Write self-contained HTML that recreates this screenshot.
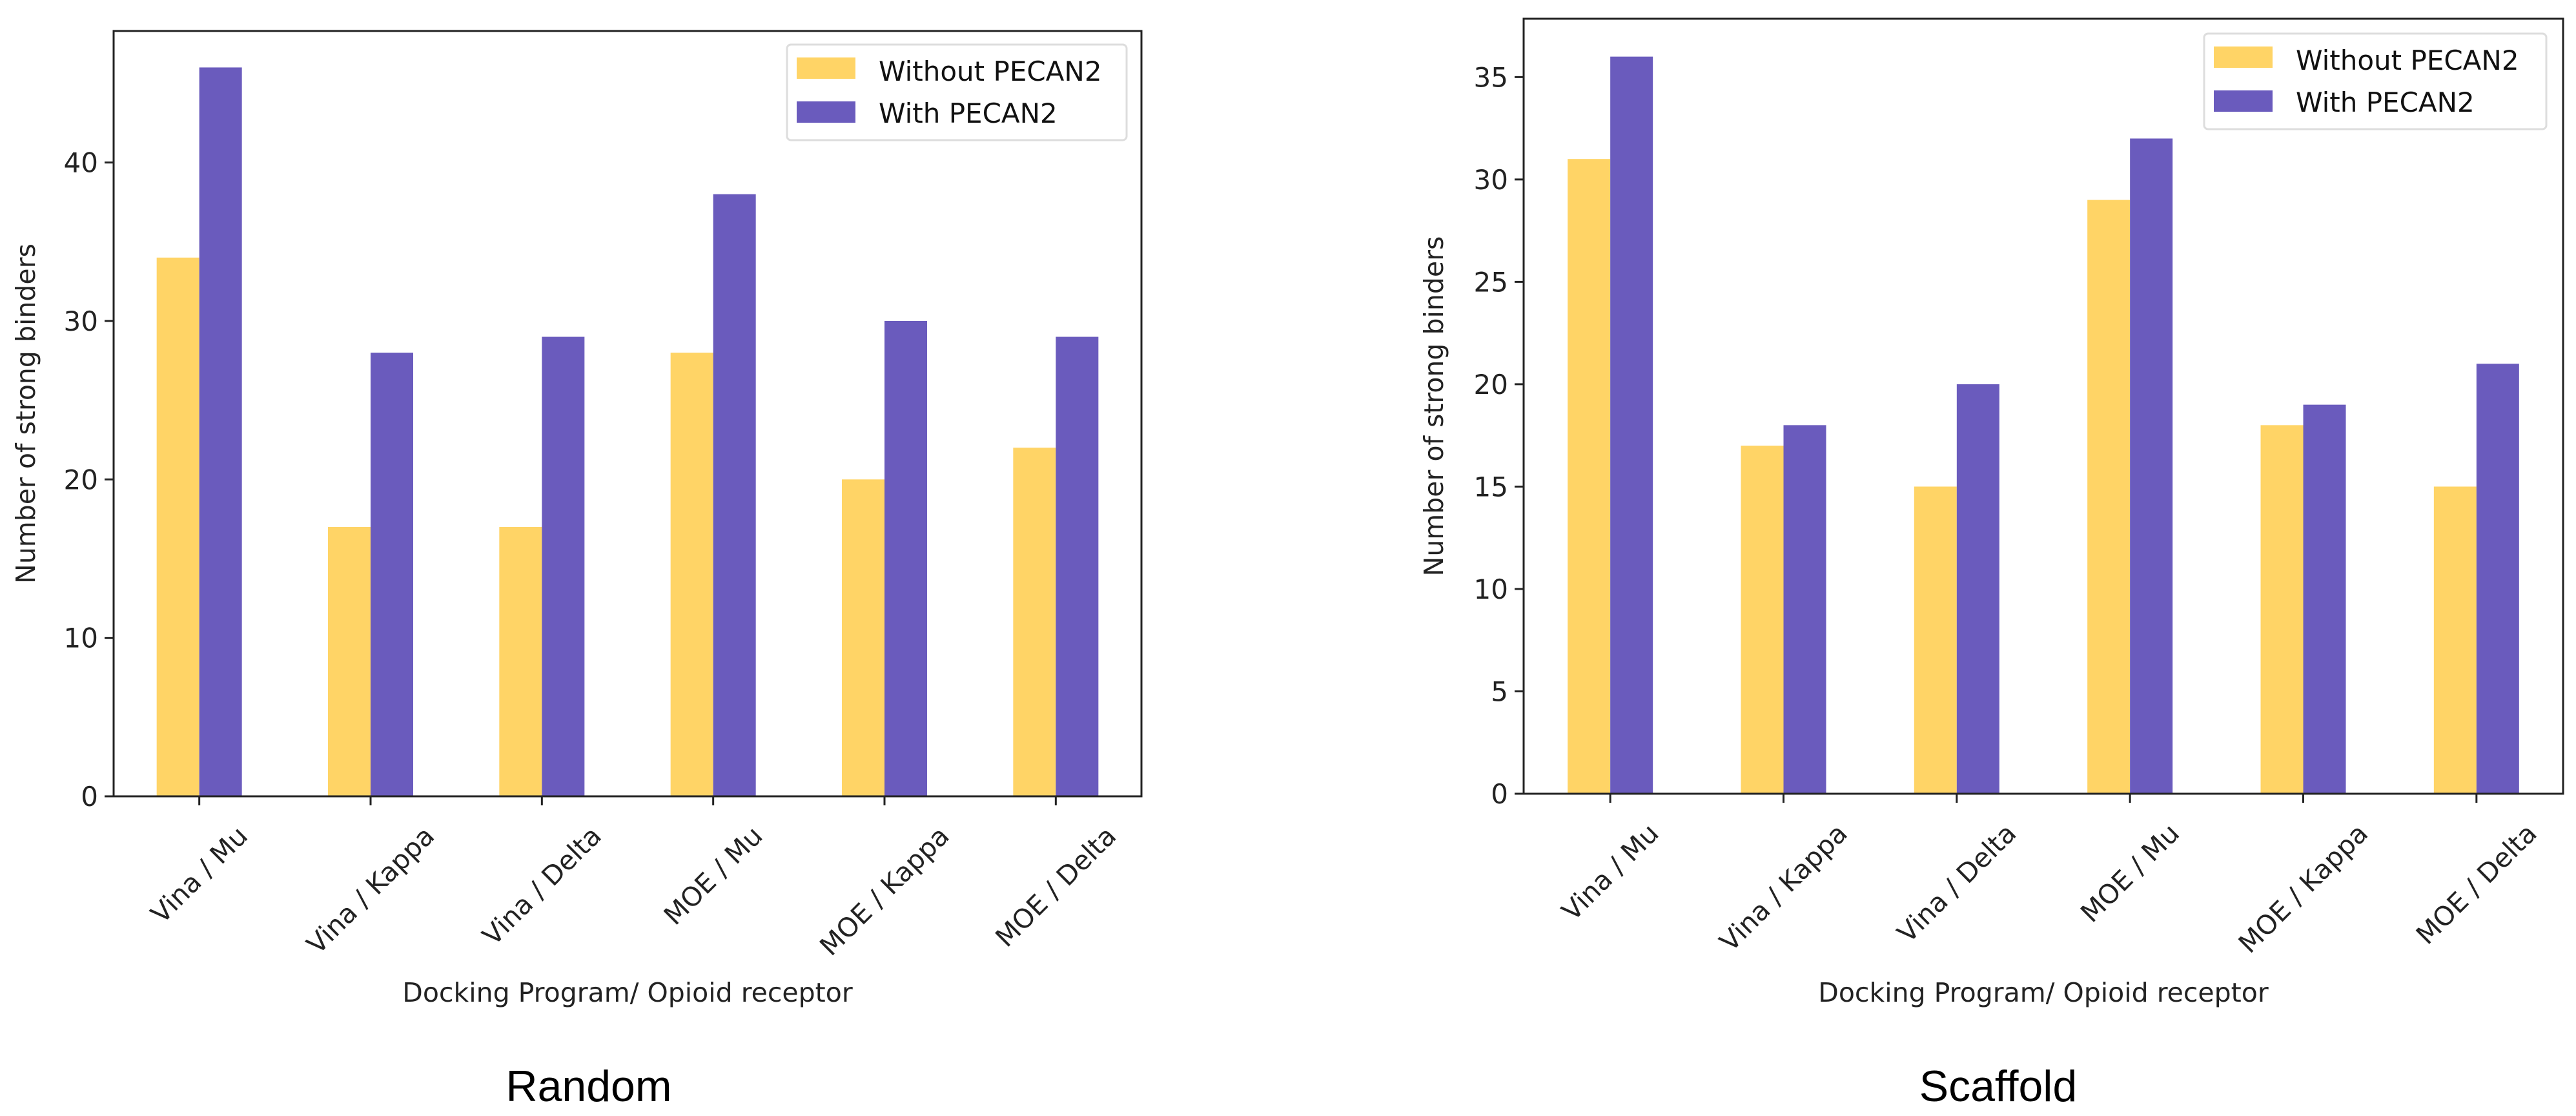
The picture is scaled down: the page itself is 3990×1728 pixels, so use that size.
<!DOCTYPE html>
<html><head><meta charset="utf-8"><style>
html,body{margin:0;padding:0;background:#fff;}
svg{display:block;font-family:"DejaVu Sans","Liberation Sans",sans-serif;}
</style></head><body>
<svg id="root" width="3990" height="1728" viewBox="0 0 3990 1728"></svg>
<script>
const categories = ["Vina / Mu","Vina / Kappa","Vina / Delta","MOE / Mu","MOE / Kappa","MOE / Delta"];
const randomWithout = [34,17,17,28,20,22];
const randomWith = [46,28,29,38,30,29];
const scaffoldWithout = [31,17,15,29,18,15];
const scaffoldWith = [36,18,20,32,19,21];
const randomTicks = [0,10,20,30,40];
const scaffoldTicks = [0,5,10,15,20,25,30,35];
const seriesNames = ["Without PECAN2","With PECAN2"];

const NS="http://www.w3.org/2000/svg";
const root=document.getElementById('root');
const C1="#FFD466", C2="#6A5BBD";
function mk(tag,attrs,parent){const e=document.createElementNS(NS,tag);for(const k in attrs)e.setAttribute(k,attrs[k]);(parent||root).appendChild(e);return e;}

function chart(cfg){
  const g=mk('g',{});
  
  
  const {L,R,T,B,ymax}=cfg;
  const y=v=>B-(v/ymax)*(B-T);
  const step=(R-L)/categories.length;
  const x=i=>L+step*(i+0.5);
  const bw=66;
  cfg.a.forEach((v,i)=>{
    const r=mk('rect',{x:x(i)-bw,y:y(v),width:bw,height:B-y(v),fill:C1},g);
    
    
  });
  cfg.b.forEach((v,i)=>{
    const r=mk('rect',{x:x(i),y:y(v),width:bw,height:B-y(v),fill:C2},g);
    
    
  });
  const frame=mk('rect',{x:L,y:T,width:R-L,height:B-T,fill:'none',stroke:'#222','stroke-width':3},g);
  
  
  cfg.ticks.forEach(t=>{
    mk('line',{x1:L-14,x2:L,y1:y(t),y2:y(t),stroke:'#222','stroke-width':3},g);
    const tx=mk('text',{x:L-24,y:y(t)+15,'text-anchor':'end','font-size':42,fill:'#222'},g);
    tx.textContent=t;
    
    
  });
  categories.forEach((c,i)=>{
    mk('line',{x1:x(i),x2:x(i),y1:B,y2:B+14,stroke:'#222','stroke-width':3},g);
    const tx=mk('text',{x:0,y:0,'text-anchor':'middle','dominant-baseline':'central','font-size':41,fill:'#222'},g);
    tx.textContent=c;
    
    
    const w=tx.getComputedTextLength();
    const h=34;
    const cy=B+42+(w+h)/(2*Math.SQRT2);
    tx.setAttribute('transform','translate('+x(i)+','+cy+') rotate(-45)');
  });
  const yt=mk('text',{x:0,y:0,'text-anchor':'middle','font-size':41,fill:'#222',transform:'translate('+(cfg.yTitleX)+','+((T+B)/2)+') rotate(-90)'},g);
  yt.textContent='Number of strong binders';
  
  
  const xt=mk('text',{x:(L+R)/2,y:1551,'text-anchor':'middle','font-size':41,fill:'#222'},g);
  xt.textContent='Docking Program/ Opioid receptor';
  
  
  // legend
  const lg=mk('g',{},g);
  
  
  const lx=cfg.legX, ly=cfg.legY;
  mk('rect',{x:lx,y:ly,width:cfg.legW,height:148,rx:6,fill:'#fff',stroke:'#ddd','stroke-width':3},lg);
  [C1,C2].forEach((col,k)=>{
    const e=mk('g',{},lg);
    
    
    mk('rect',{x:lx+15,y:ly+20+k*68,width:91,height:33,fill:col},e);
    const t=mk('text',{x:lx+142,y:ly+56+k*65,'font-size':42,fill:'#111'},e);
    t.textContent=seriesNames[k];
  });
  const cap=mk('text',{x:cfg.capX,y:1705,'text-anchor':'middle','font-size':68,fill:'#000','font-family':'"Liberation Sans Narrow","Liberation Sans",sans-serif'},g);
  cap.textContent=cfg.caption;
  
  
}
chart({name:'random-chart',L:176,R:1768,T:48,B:1233,ymax:48.3,a:randomWithout,b:randomWith,ticks:randomTicks,yTitleX:54,legX:1219,legY:69,legW:526,capX:912,caption:'Random'});
chart({name:'scaffold-chart',L:2360,R:3970,T:29,B:1229,ymax:37.85,a:scaffoldWithout,b:scaffoldWith,ticks:scaffoldTicks,yTitleX:2235,legX:3414,legY:52,legW:530,capX:3095,caption:'Scaffold'});
</script>
</body></html>
